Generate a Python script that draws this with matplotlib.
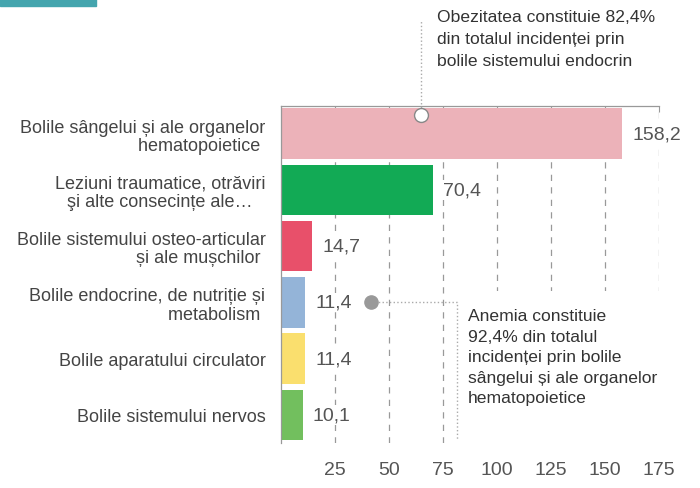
import matplotlib.pyplot as plt
from matplotlib.patches import Rectangle

categories = [
    "Bolile sângelui și ale organelor\nhematopoietice ",
    "Leziuni traumatice, otrăviri\nşi alte consecințe ale…",
    "Bolile sistemului osteo-articular\nși ale mușchilor ",
    "Bolile endocrine, de nutriție și\nmetabolism ",
    "Bolile aparatului circulator",
    "Bolile sistemului nervos",
]
values = [158.2, 70.4, 14.7, 11.4, 11.4, 10.1]
value_labels = ["158,2", "70,4", "14,7", "11,4", "11,4", "10,1"]
colors = ["#ECB2B9", "#12AA55", "#E8506A", "#94B4D8", "#FADF6E", "#72BF5E"]
xticks = [25, 50, 75, 100, 125, 150, 175]

note_obez = "Obezitatea constituie 82,4%\ndin totalul incidenței prin\nbolile sistemului endocrin"
note_anemia = "Anemia constituie\n92,4% din totalul\nincidenței prin bolile\nsângelui și ale organelor\nhematopoietice"

plt.rcParams['font.family'] = ['Liberation Sans', 'DejaVu Sans']

fig = plt.figure(figsize=(7, 4.89), dpi=100)
ax = fig.add_axes([0.401, 0.092, 0.54, 0.69])

ypos = list(range(len(values)))
ax.barh(ypos, values, height=0.9, color=colors, zorder=2)
ax.set_ylim(len(values) - 0.5, -0.5)
ax.set_xlim(0, 175)

for y, v, lab in zip(ypos, values, value_labels):
    ax.text(v + 4.8, y, lab, va='center', ha='left', fontsize=14, color='#555555', zorder=3,
            bbox=dict(facecolor='white', edgecolor='none', pad=1))

ax.set_yticks(ypos)
ax.set_yticklabels(categories, fontsize=13, color='#444444', linespacing=1.1)
for i, t in enumerate(ax.get_yticklabels()):
    t.set_multialignment('center' if i == 1 else 'right')
ax.tick_params(axis='y', length=0, pad=11)

ax.set_xticks(xticks)
ax.set_xticklabels([str(x) for x in xticks], fontsize=14, color='#555555')
ax.tick_params(axis='x', bottom=False, top=True, direction='in', length=4,
               color='#999999', pad=13)
ax.xaxis.grid(True, color='#999999', linestyle=(0, (5, 5)), linewidth=0.9)

for s in ['right', 'bottom']:
    ax.spines[s].set_visible(False)
for s in ['left', 'top']:
    ax.spines[s].set_color('#999999')
    ax.spines[s].set_linewidth(0.9)

# obesity annotation
ax.plot([65, 65], [-0.33, -2.0], color='#aaaaaa', linestyle=':', linewidth=1,
        clip_on=False, zorder=3)
ax.plot(65, -0.33, 'o', markersize=10, markerfacecolor='white',
        markeredgecolor='#888888', zorder=4, clip_on=False)
fig.text(437 / 700, 1 - 10 / 489, note_obez, ha='left', va='top', fontsize=12.6,
         color='#333333', linespacing=1.6)

# anemia annotation, on a white panel hiding the grid
ax.add_patch(Rectangle((459 / 700, 1 - 445 / 489), 241 / 700, 153 / 489,
                       transform=fig.transFigure, facecolor='white',
                       edgecolor='none', zorder=1.8, clip_on=False))
ax.plot([41.7, 81.5, 81.5], [3, 3, 5.45], color='#aaaaaa', linestyle=':',
        linewidth=1, clip_on=False, zorder=3)
ax.plot(41.7, 3, 'o', markersize=9.5, color='#999999', zorder=4)
fig.text(468 / 700, 1 - 309 / 489, note_anemia, ha='left', va='top', fontsize=12.6,
         color='#333333', linespacing=1.46)

# cropped title bar
fig.patches.append(Rectangle((0, 1 - 7 / 489), 96 / 700, 7 / 489,
                             transform=fig.transFigure, color='#44A5AE'))

fig.savefig('out.png', dpi=100)
